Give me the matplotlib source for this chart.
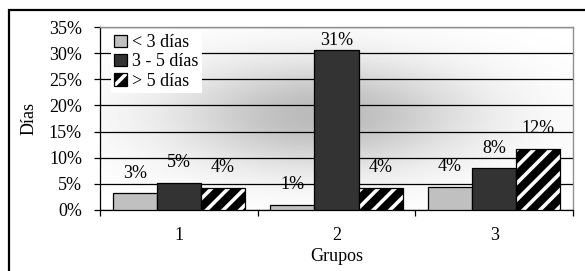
import numpy as np
import matplotlib
matplotlib.use("Agg")
import matplotlib.pyplot as plt

# ---- data ----
categories = ["1", "2", "3"]
series_names = ["< 3 días", "3 - 5 días", "> 5 días"]
menos_3 = [3.2, 0.96, 4.4]
de_3_a_5 = [5.2, 30.6, 8.0]
mas_5 = [4.3, 4.3, 11.7]
value_labels = [["3%", "1%", "4%"], ["5%", "31%", "8%"], ["4%", "4%", "12%"]]
yticks = [0, 5, 10, 15, 20, 25, 30, 35]
ytick_labels = ["0%", "5%", "10%", "15%", "20%", "25%", "30%", "35%"]

plt.rcParams['font.family'] = ['Liberation Serif', 'DejaVu Serif']
plt.rcParams['hatch.linewidth'] = 2.6

FS = 13
fig = plt.figure(figsize=(5.85, 2.71), dpi=100)
ax = fig.add_axes([100/585, 1-210/271, 473/585, 183/271])

# gradient background
gx, gy = np.meshgrid(np.linspace(0, 1, 300), np.linspace(0, 1, 150))
g = 1 - 0.27*np.exp(-((gx-0.47)/0.32)**2 - ((gy-0.52)/0.30)**2)
ax.imshow(g, extent=[0, 1, 0, 1], transform=ax.transAxes, cmap='gray',
          vmin=0, vmax=1, aspect='auto', zorder=0, origin='lower')

x = np.arange(len(categories))
w = 0.28
b1 = ax.bar(x - w, menos_3, w, color='#c0c0c0', edgecolor='black', linewidth=0.9,
            label=series_names[0], zorder=3)
b2 = ax.bar(x, de_3_a_5, w, color='#333333', edgecolor='black', linewidth=0.9,
            label=series_names[1], zorder=3)
b3 = ax.bar(x + w, mas_5, w, color='black', edgecolor='black', hatch='//',
            linewidth=0.9, label=series_names[2], zorder=3)
for rect in b3:
    rect._hatch_color = (1.0, 1.0, 1.0, 1.0)

for bars, labs in zip([b1, b2, b3], value_labels):
    for rect, lab in zip(bars, labs):
        h = rect.get_height()
        off = 7.0 if h > 25 else 14.4
        ax.annotate(lab, (rect.get_x() + rect.get_width()/2, h),
                    xytext=(0, off), textcoords='offset points',
                    ha='center', va='center', fontsize=FS, zorder=4)

ax.set_xlim(-0.5, 2.5)
ax.set_ylim(0, 35)
ax.set_yticks(yticks)
ax.set_yticklabels(ytick_labels, fontsize=FS)
ax.set_xticks([-0.5, 0.5, 1.5, 2.5])
ax.set_xticklabels([])
ax.set_xticks(x, minor=True)
ax.set_xticklabels(categories, minor=True, fontsize=FS)
ax.tick_params(axis='x', which='major', direction='out', length=4, width=0.9)
ax.tick_params(axis='x', which='minor', length=0, pad=12)
ax.tick_params(axis='y', direction='out', length=4, width=0.9, pad=9)
ax.yaxis.grid(True, color='black', linewidth=0.9, zorder=1)
ax.set_axisbelow(True)

for s in ['top', 'right']:
    ax.spines[s].set_color('#909090')
    ax.spines[s].set_linewidth(1.0)
for s in ['left', 'bottom']:
    ax.spines[s].set_color('black')
    ax.spines[s].set_linewidth(0.9)

ax.set_ylabel("Días", fontsize=FS)
ax.yaxis.set_label_coords(-0.132, 0.5)
ax.set_xlabel("Grupos", fontsize=FS)
ax.xaxis.set_label_coords(0.5, -0.21)

leg = ax.legend(loc='upper left', bbox_to_anchor=(0.015, 1.0), fontsize=FS,
                frameon=True, facecolor='white', edgecolor='none', framealpha=1,
                fancybox=False, handlelength=0.7, handleheight=0.7,
                handletextpad=0.3, labelspacing=0.12, borderpad=0.2,
                borderaxespad=0.2)
leg.set_zorder(5)

# outer chart border
fig.patches.append(plt.Rectangle((9/585, -0.05), 1.0, 1-10/271+0.05,
                                 transform=fig.transFigure, fill=False,
                                 edgecolor='black', linewidth=1.6))

fig.savefig("out.png", dpi=100)
